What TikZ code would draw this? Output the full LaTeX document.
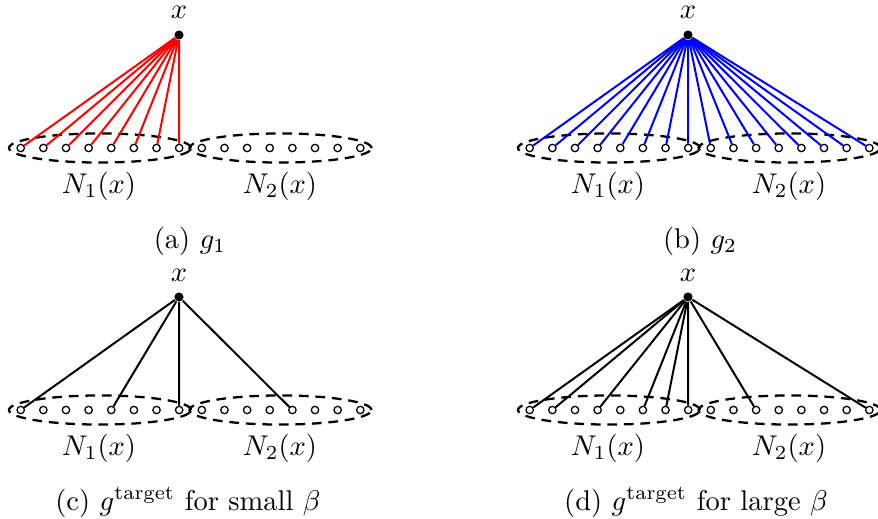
\documentclass[tikz,border=0pt]{standalone}
\usetikzlibrary{shapes.geometric}
\begin{document}
\begin{tikzpicture}[x=0.3509pt,y=-0.3509pt,
  leaf/.style={circle,draw,fill=white,inner sep=0pt,minimum size=2.6pt,line width=0.45pt},
  rootdot/.style={circle,fill=black,inner sep=0pt,minimum size=3.2pt},
  nbhd/.style={ellipse,draw,dash pattern=on 3.4pt off 2.4pt,line width=0.8pt,inner sep=0pt,minimum width=63.9pt,minimum height=10.2pt},
  txt/.style={inner sep=0pt,anchor=base},
  edge/.style={line width=0.7pt}]
\useasboundingbox (0,0) rectangle (878,518);
\foreach \p/\dx/\dy in {a/0/0,b/509/0,c/0/262,d/509/262}{
  \node[nbhd] (\p-e1) at (100+\dx,148+\dy) {};
  \node[nbhd] (\p-e2) at (280.5+\dx,148+\dy) {};
  \node[rootdot] (\p-r) at (179+\dx,35+\dy) {};
  \node[txt] (\p-x) at (179+\dx,19+\dy) {$x$};
  \foreach \i in {1,...,16}{
    \node[leaf] (\p-\i) at ({20.7+(\i-1)*22.64+\dx},148+\dy) {};
  }
  \node[txt] (\p-n1) at (99+\dx,193+\dy) {$N_1(x)$};
  \node[txt] (\p-n2) at (280+\dx,193+\dy) {$N_2(x)$};
}
\foreach \i in {1,...,8} \draw[edge,red] (a-r) -- (a-\i);
\foreach \i in {1,...,16} \draw[edge,blue] (b-r) -- (b-\i);
\foreach \i in {1,5,8,13} \draw[edge,black] (c-r) -- (c-\i);
\foreach \i in {1,2,4,6,7,8,11,16} \draw[edge,black] (d-r) -- (d-\i);
\node[txt] (capa) at (190,248) {(a) $g_1$};
\node[txt] (capb) at (700,248) {(b) $g_2$};
\node[txt] (capc) at (188,510) {(c) $g^{\mathrm{target}}$ for small $\beta$};
\node[txt] (capd) at (696,510) {(d) $g^{\mathrm{target}}$ for large $\beta$};
\end{tikzpicture}
\end{document}
